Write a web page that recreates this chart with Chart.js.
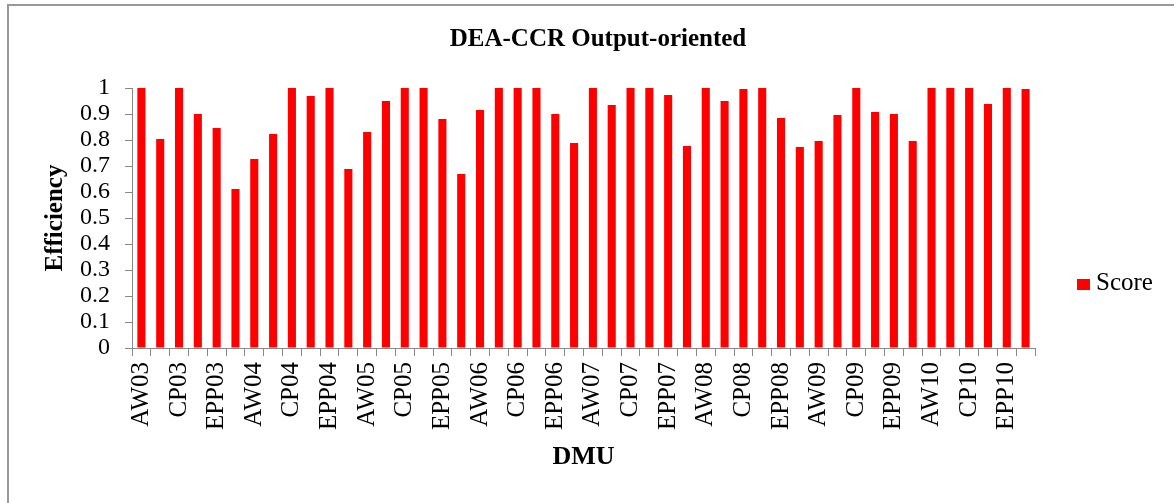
<!DOCTYPE html>
<html>
<head>
<meta charset="utf-8">
<script src="https://cdn.jsdelivr.net/npm/chart.js@4/dist/chart.umd.min.js"></script>
<style>
    html, body { margin: 0; padding: 0; background: #fff; }
    #wrap { position: relative; width: 1174px; height: 503px; }
    #frame { position: absolute; left: 7px; top: 4px; right: 0; bottom: 0; border-top: 2px solid #999; border-left: 2px solid #999; }
    #title { position: absolute; left: 398px; width: 400px; top: 24px; text-align: center; font: bold 25px "Liberation Serif", "Times New Roman", serif; color: #000; }
    #legend { position: absolute; left: 1077px; top: 268px; font: 25px "Liberation Serif", "Times New Roman", serif; color: #000; }
    #legend span.box { display: inline-block; width: 13px; height: 11px; background: #ff0000; margin-right: 6px; }
</style>
</head>
<body>
<div id="wrap">
    <div id="frame"></div>
    <canvas id="myChart" width="1174" height="503"></canvas>
    <div id="title">DEA-CCR Output-oriented</div>
    <div id="legend"><span class="box"></span>Score</div>
</div>
<script>
// DMU 이름 (연도별 6개)
const years = ['03', '04', '05', '06', '07', '08', '09', '10'];
const groups = ['AW', 'AP', 'CP', 'CW', 'EPP', 'EW'];

// 효율 점수
const scores = [
    1.000, 0.804, 1.000, 0.900, 0.846, 0.612,
    0.727, 0.823, 1.000, 0.969, 1.000, 0.688,
    0.831, 0.950, 1.000, 1.000, 0.881, 0.669,
    0.915, 1.000, 1.000, 1.000, 0.900, 0.788,
    1.000, 0.935, 1.000, 1.000, 0.973, 0.777,
    1.000, 0.950, 0.996, 1.000, 0.885, 0.773,
    0.796, 0.896, 1.000, 0.908, 0.900, 0.796,
    1.000, 1.000, 1.000, 0.938, 1.000, 0.996
];

const yTicks = [0, 0.1, 0.2, 0.3, 0.4, 0.5, 0.6, 0.7, 0.8, 0.9, 1];

let labels = [];
years.forEach((y) => {
    groups.forEach((g) => {
        labels.push(g + y);
    });
});

const serif = '"Liberation Serif", "Times New Roman", serif';

const data = {
    labels: labels,
    datasets: [{
        label: 'Score',
        data: scores,
        backgroundColor: '#ff0000',
        borderWidth: 0,
        categoryPercentage: 1,
        barPercentage: 0.43
    }]
};

const ctx = document.getElementById('myChart').getContext('2d');
const myChart = new Chart(ctx, {
    type: 'bar',
    data: data,
    options: {
        responsive: false,
        animation: false,
        layout: {
            padding: { left: 41, right: 139, top: 88, bottom: 30 }
        },
        plugins: {
            legend: { display: false },
            tooltip: { enabled: false },
            title: { display: false }
        },
        scales: {
            x: {
                grid: {
                    display: true,
                    drawOnChartArea: false,
                    drawTicks: true,
                    tickLength: 8,
                    color: '#888',
                    offset: true
                },
                border: { color: '#888', width: 1 },
                ticks: {
                    autoSkip: false,
                    minRotation: 90,
                    maxRotation: 90,
                    padding: 6,
                    color: '#000',
                    font: { family: serif, size: 25 },
                    callback: function (value, index) {
                        return index % 2 === 0 ? labels[index] : '';
                    }
                },
                title: {
                    display: true,
                    text: 'DMU',
                    color: '#000',
                    font: { family: serif, size: 26, weight: 'bold', lineHeight: 1.2 },
                    padding: 0
                },
                afterFit: (scale) => { scale.height = 125; }
            },
            y: {
                min: 0,
                max: 1,
                afterBuildTicks: (scale) => {
                    scale.ticks = yTicks.map((v) => ({ value: v }));
                },
                grid: {
                    display: true,
                    drawOnChartArea: false,
                    drawTicks: true,
                    tickLength: 7,
                    color: '#888'
                },
                border: { color: '#888', width: 1 },
                ticks: {
                    autoSkip: false,
                    padding: 15,
                    color: '#000',
                    font: { family: serif, size: 24 },
                    callback: (v) => String(Math.round(v * 10) / 10)
                },
                title: {
                    display: true,
                    text: 'Efficiency',
                    color: '#000',
                    font: { family: serif, size: 25, weight: 'bold', lineHeight: 1.2 },
                    padding: 0
                },
                afterFit: (scale) => { scale.width = 91; }
            }
        }
    }
});
</script>
</body>
</html>
